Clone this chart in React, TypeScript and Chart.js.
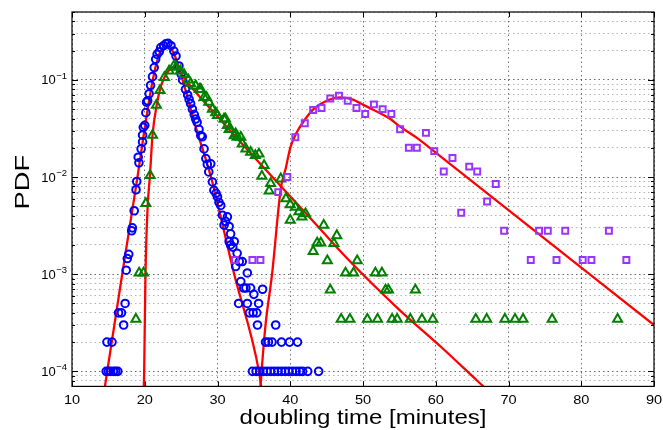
import React, { useEffect, useRef } from 'react';
import { Chart, registerables } from 'chart.js';

Chart.register(...registerables);

// ---------- data ----------
const blueX = [
  14.7, 15.0, 15.3, 15.7, 16.0, 16.3, 14.8, 15.5, 16.4, 16.8, 17.1, 17.3, 17.45, 17.6, 17.8,
  18.2, 18.3, 18.55, 18.8, 18.9, 19.2, 19.1, 19.5, 19.7, 19.7, 19.8, 20.0, 20.15, 20.25, 20.4,
  20.6, 20.8, 21.07, 21.3, 21.5, 21.7, 22.0, 22.2, 22.6, 22.9, 23.2, 23.6, 24.0, 24.3, 24.7,
  25.0, 25.2, 25.6, 25.9, 26.1, 26.3, 26.55, 26.8, 27.0, 27.2, 27.46, 27.7, 27.9, 28.15, 28.4,
  28.6, 28.8, 29.07, 29.3, 29.5, 29.8, 30.0, 30.2, 30.44, 30.67, 30.9, 31.1, 31.36, 31.6, 31.6,
  31.8, 31.8, 32.1, 32.3, 32.5, 32.7, 33.0, 33.2, 33.4, 33.6, 33.9, 32.9, 34.1, 34.1, 34.4,
  34.55, 34.9, 35.0, 35.4, 35.5, 35.65, 36.2, 38.0, 36.6, 37.0, 37.5, 38.8, 39.9, 41.0,
  34.8, 35.3, 35.8, 36.3, 36.8, 37.3, 37.8, 38.3, 38.8, 39.3, 39.8, 40.3, 40.8, 41.3, 41.7, 42.4, 43.9,
];
const blueY = [
  1e-4, 1e-4, 1e-4, 1e-4, 1e-4, 1e-4, 2e-4, 2e-4, 4e-4, 4e-4, 3e-4, 5e-4, 1.1e-3, 1.45e-3, 1.6e-3,
  2.8e-3, 3.0e-3, 4.5e-3, 7.4e-3, 9e-3, 1.4e-2, 1.6e-2, 1.95e-2, 2.3e-2, 2.7e-2, 3.25e-2, 3.4e-2, 4.6e-2, 5.9e-2, 6.1e-2,
  7.2e-2, 8.8e-2, 0.108, 0.134, 0.163, 0.183, 0.195, 0.215, 0.225, 0.235, 0.238, 0.225, 0.198, 0.176, 0.139,
  0.115, 0.10, 0.080, 0.07, 0.063, 0.057, 0.05, 0.044, 0.0396, 0.0366, 0.031, 0.0267, 0.026, 0.0195, 0.0155,
  0.0135, 0.0113, 0.0137, 0.0089, 0.0073, 0.0068, 0.00625, 0.0055, 0.0051, 0.00405, 0.0032, 0.0035, 0.0039, 0.0031, 0.00217,
  0.0026, 0.002, 0.0019, 0.00217, 0.0012, 0.00164, 0.00135, 0.00084, 0.00135, 0.00072, 0.00072, 0.0005, 0.00103, 0.0005, 0.0004,
  0.00072, 0.0004, 0.00062, 0.0004, 0.0003, 0.0005, 0.0007, 0.0003, 2e-4, 2e-4, 2e-4, 2e-4, 2e-4, 2e-4,
  1e-4, 1e-4, 1e-4, 1e-4, 1e-4, 1e-4, 1e-4, 1e-4, 1e-4, 1e-4, 1e-4, 1e-4, 1e-4, 1e-4, 1e-4, 1e-4, 1e-4,
];

const greenX = [
  18.78, 19.23, 19.83, 20.15, 20.74, 21.07, 21.6, 22.1, 22.7, 23.35, 24.0, 24.3, 24.9, 25.4, 26.0,
  26.3, 27.0, 27.5, 27.7, 28.15, 28.5, 28.8, 29.3, 29.75, 30.0, 30.9, 31.1, 31.36, 31.6, 31.8,
  32.3, 32.5, 32.7, 33.2, 33.4, 33.9, 34.55, 35.2, 35.7, 36.4, 36.1, 37.1, 37.3, 38.7, 39.4,
  40.0, 40.0, 40.7, 41.2, 41.6, 42.1, 43.15, 43.7, 44.2, 44.6, 45.1, 45.5, 46.0, 46.4, 47.0,
  47.6, 48.2, 48.7, 49.2, 50.6, 51.7, 52.0, 52.6, 53.1, 53.5, 54.0, 54.7, 56.5, 57.2, 58.1,
  59.6, 65.5, 67.0, 69.5, 70.9, 72.0, 76.0, 85.0,
];
const greenY = [
  3.45e-4, 1.03e-3, 1.03e-3, 5.35e-3, 1.04e-2, 2.7e-2, 5.5e-2, 7.8e-2, 0.106, 0.124, 0.139, 0.135, 0.124, 0.114, 0.1,
  0.092, 0.087, 0.08, 0.08, 0.066, 0.066, 0.059, 0.05, 0.046, 0.043, 0.0396, 0.0396, 0.034, 0.031, 0.031,
  0.0267, 0.0279, 0.0257, 0.0257, 0.022, 0.0195, 0.018, 0.0167, 0.0173, 0.0132, 0.0102, 0.0072, 0.0086, 0.0096, 0.006,
  0.0052, 0.0036, 0.0049, 0.0044, 0.0039, 0.0042, 0.00172, 0.0021, 0.0021, 0.0032, 0.00138, 0.00069, 0.00207, 0.0025, 0.000345,
  0.00103, 0.000345, 0.00103, 0.00138, 0.000345, 0.00103, 0.000345, 0.00103, 0.00069, 0.00069, 0.000345, 0.000345, 0.000345, 0.00069, 0.000345,
  0.000345, 0.000345, 0.000345, 0.000345, 0.000345, 0.000345, 0.000345, 0.000345,
];

const purpleX = [
  32.4, 34.8, 35.9, 38.35, 39.6, 40.7, 42.0, 43.15, 44.3, 45.5, 46.7, 47.9, 49.1, 50.3, 51.5,
  52.7, 53.9, 55.1, 56.3, 57.4, 58.65, 59.8, 61.1, 62.3, 63.5, 64.6, 65.7, 67.06, 68.25, 69.4,
  73.06, 74.2, 75.4, 76.6, 77.8, 80.2, 81.4, 83.8, 86.2,
];
const purpleY = [
  1.4e-3, 1.4e-3, 1.4e-3, 7e-3, 1e-2, 0.0257, 0.0358, 0.049, 0.0513, 0.0645, 0.0686, 0.061, 0.0513, 0.0445, 0.056,
  0.05, 0.0445, 0.031, 0.02, 0.02, 0.0285, 0.0185, 0.0114, 0.0157, 0.0043, 0.0128, 0.0114, 0.0056, 0.0085, 0.0028,
  0.0014, 0.0028, 0.0028, 0.0014, 0.0028, 0.0014, 0.0014, 0.0028, 0.0014,
];

// fitted curves
const fitBlueX = [14.4, 14.84, 16.9, 19.0, 20.0, 21.1, 22.0, 22.9, 23.8, 24.5, 25.2, 27.0, 29.1, 32.3, 35.7, 36.0];
const fitBlueY = [6e-5, 1e-4, 1e-3, 1e-2, 3.2e-2, 0.1, 0.185, 0.225, 0.2, 0.15, 0.1, 0.033, 1e-2, 1e-3, 1e-4, 7e-5];

const fitGreenX = [19.85, 19.92, 20.1, 20.4, 20.7, 21.07, 21.66, 22.2, 22.7, 23.3, 23.8, 25.0, 26.0, 27.7, 30.0, 35.24, 42.8, 47.8, 55.0, 60.85, 65.7, 66.8];
const fitGreenY = [6e-5, 1e-4, 1e-3, 5e-3, 1e-2, 2.7e-2, 5.6e-2, 8.5e-2, 0.106, 0.125, 0.135, 0.115, 0.092, 0.065, 0.042, 0.0154, 3.75e-3, 1.46e-3, 4.3e-4, 1.75e-4, 8e-5, 6.7e-5];

const fitPurpleX = [35.85, 36.06, 36.6, 37.5, 38.7, 39.4, 40.0, 40.8, 41.9, 43.2, 45.5, 46.8, 48.5, 50.1, 53.76, 55.1, 57.5, 60.6, 90.5];
const fitPurpleY = [6e-5, 1e-4, 3e-4, 1e-3, 7.6e-3, 1.25e-2, 0.02, 0.028, 0.038, 0.05, 0.063, 0.066, 0.063, 0.055, 0.0396, 0.033, 0.025, 0.0164, 2.8e-4];

// axes
const xTicks = [10, 20, 30, 40, 50, 60, 70, 80, 90];
const xTickLabels = ['10', '20', '30', '40', '50', '60', '70', '80', '90'];
const yMajorTicks = [1e-4, 1e-3, 1e-2, 1e-1];
const yMajorBase = ['10', '10', '10', '10'];
const yMajorExp = ['\u22124', '\u22123', '\u22122', '\u22121'];
const yMinorTicks = [
  8e-5, 9e-5,
  2e-4, 3e-4, 4e-4, 5e-4, 6e-4, 7e-4, 8e-4, 9e-4,
  2e-3, 3e-3, 4e-3, 5e-3, 6e-3, 7e-3, 8e-3, 9e-3,
  2e-2, 3e-2, 4e-2, 5e-2, 6e-2, 7e-2, 8e-2, 9e-2,
  2e-1, 3e-1, 4e-1, 5e-1,
];
const xTitle = 'doubling time [minutes]';
const yTitle = 'PDF';

const FONT = '"Liberation Sans", Arial, Helvetica, sans-serif';

const zip = (xs: number[], ys: number[]) => xs.map((x, i) => ({ x, y: ys[i] }));
const isMajor = (v: number) => yMajorTicks.some((m) => Math.abs(v / m - 1) < 1e-6);

function drawText(ctx: any, text: string, x: number, y: number, size: number, sx: number, align: string, rotate = false) {
  ctx.save();
  ctx.translate(x, y);
  if (rotate) ctx.rotate(-Math.PI / 2);
  ctx.scale(sx, 1);
  ctx.font = `${size}px ${FONT}`;
  ctx.textAlign = align;
  ctx.textBaseline = 'alphabetic';
  ctx.fillStyle = '#000';
  ctx.fillText(text, 0, 0);
  ctx.restore();
}

const boxPlugin = {
  id: 'matlabBox',
  afterDraw(chart: any) {
    const { ctx, chartArea, scales } = chart;
    const { left, right, top, bottom } = chartArea;
    const xs = scales.x;
    const ys = scales.y;
    ctx.save();
    ctx.strokeStyle = '#000';
    ctx.lineWidth = 1;
    ctx.setLineDash([]);
    ctx.beginPath();
    xTicks.forEach((v) => {
      const p = Math.round(xs.getPixelForValue(v)) + 0.5;
      ctx.moveTo(p, bottom);
      ctx.lineTo(p, bottom - 5);
      ctx.moveTo(p, top);
      ctx.lineTo(p, top + 5);
    });
    yMajorTicks.forEach((v) => {
      const p = Math.round(ys.getPixelForValue(v)) + 0.5;
      ctx.moveTo(left, p);
      ctx.lineTo(left + 6, p);
      ctx.moveTo(right, p);
      ctx.lineTo(right - 6, p);
    });
    yMinorTicks.forEach((v) => {
      const p = Math.round(ys.getPixelForValue(v)) + 0.5;
      ctx.moveTo(left, p);
      ctx.lineTo(left + 3, p);
      ctx.moveTo(right, p);
      ctx.lineTo(right - 3, p);
    });
    ctx.stroke();
    ctx.lineWidth = 1.2;
    ctx.strokeRect(left, top, right - left, bottom - top);
    ctx.restore();

    // tick labels
    xTicks.forEach((v, i) => {
      drawText(ctx, xTickLabels[i], xs.getPixelForValue(v), bottom + 18, 13, 1.12, 'center');
    });
    yMajorTicks.forEach((v, i) => {
      const p = ys.getPixelForValue(v);
      ctx.save();
      ctx.font = `9.5px ${FONT}`;
      const ew = ctx.measureText(yMajorExp[i]).width;
      ctx.restore();
      const expRight = left - 5;
      drawText(ctx, yMajorExp[i], expRight, p - 1, 9.5, 1, 'right');
      drawText(ctx, yMajorBase[i], expRight - ew - 0.5, p + 4.5, 13, 1, 'right');
    });

    // axis titles
    drawText(ctx, xTitle, (left + right) / 2, 424, 20, 1.2, 'center');
    drawText(ctx, yTitle, 29, (top + bottom) / 2 - 17, 21, 1.3, 'center', true);
  },
};

export default function App() {
  const ref = useRef<HTMLCanvasElement | null>(null);

  useEffect(() => {
    document.body.style.margin = '0';
    const canvas = ref.current;
    if (!canvas) return;

    const markerCommon = {
      showLine: false,
      backgroundColor: 'rgba(0,0,0,0)',
      pointBackgroundColor: 'rgba(0,0,0,0)',
      pointBorderWidth: 2,
    };
    const fitCommon = {
      showLine: true,
      pointRadius: 0,
      borderColor: '#ff0000',
      borderWidth: 2.3,
      cubicInterpolationMode: 'monotone' as const,
      clip: 0,
      order: 10,
    };

    const chart = new Chart(canvas, {
      type: 'scatter',
      data: {
        datasets: [
          { ...markerCommon, label: 'purple', data: zip(purpleX, purpleY), pointStyle: 'rect', pointRadius: 4.2, borderColor: '#9933ff', pointBorderColor: '#9933ff', order: 1 },
          { ...markerCommon, label: 'green', data: zip(greenX, greenY), pointStyle: 'triangle', pointRadius: 5.2, borderColor: '#008000', pointBorderColor: '#008000', order: 2 },
          { ...markerCommon, label: 'blue', data: zip(blueX, blueY), pointStyle: 'circle', pointRadius: 3.8, borderColor: '#0000ff', pointBorderColor: '#0000ff', order: 3 },
          { ...fitCommon, label: 'fit blue', data: zip(fitBlueX, fitBlueY) },
          { ...fitCommon, label: 'fit green', data: zip(fitGreenX, fitGreenY) },
          { ...fitCommon, label: 'fit purple', data: zip(fitPurpleX, fitPurpleY) },
        ] as any,
      },
      options: {
        animation: false,
        responsive: false,
        maintainAspectRatio: false,
        events: [],
        layout: { padding: { left: 0, right: 9, top: 12, bottom: 0 } },
        plugins: {
          legend: { display: false },
          tooltip: { enabled: false },
        },
        scales: {
          x: {
            type: 'linear',
            position: 'bottom',
            min: 10,
            max: 90,
            afterBuildTicks: (s: any) => {
              s.ticks = xTicks.map((v) => ({ value: v }));
            },
            afterFit: (s: any) => {
              s.height = 43.6;
              s.paddingLeft = 0;
              s.paddingRight = 0;
            },
            grid: { color: 'rgba(0,0,0,0.55)', lineWidth: 1, drawTicks: false },
            border: { display: false, dash: [1.5, 3] },
            ticks: { display: false, autoSkip: false },
            title: { display: false },
          },
          y: {
            type: 'logarithmic',
            min: 7.4e-5,
            max: 0.5,
            afterBuildTicks: (s: any) => {
              const vals = [...yMajorTicks, ...yMinorTicks].sort((a, b) => a - b);
              s.ticks = vals.map((v) => ({ value: v, major: isMajor(v) }));
            },
            afterFit: (s: any) => {
              s.width = 72;
              s.paddingTop = 0;
              s.paddingBottom = 0;
            },
            grid: {
              color: (c: any) => (c.tick && isMajor(c.tick.value) ? 'rgba(0,0,0,0.6)' : 'rgba(0,0,0,0.3)'),
              lineWidth: 1,
              drawTicks: false,
            },
            border: { display: false, dash: [1.5, 3] },
            ticks: { display: false, autoSkip: false },
            title: { display: false },
          },
        },
      },
      plugins: [boxPlugin],
    } as any);

    return () => {
      chart.destroy();
    };
  }, []);

  return (
    <div style={{ width: 663, height: 430 }}>
      <canvas ref={ref} width={663} height={430} style={{ display: 'block', width: 663, height: 430 }} />
    </div>
  );
}
